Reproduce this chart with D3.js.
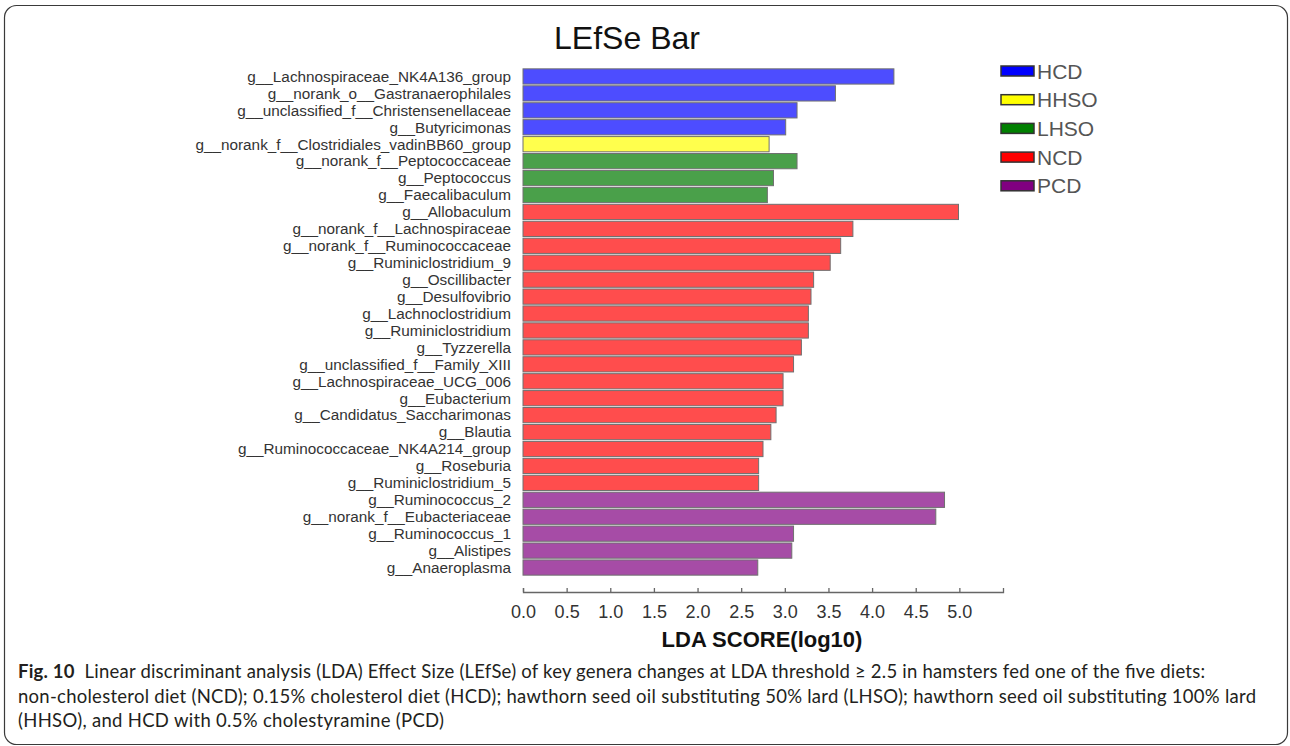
<!DOCTYPE html>
<html>
<head>
<meta charset="utf-8">
<script src="https://cdn.jsdelivr.net/npm/d3@7"></script>
<style>
  body { margin: 0; background: #fff; }
  svg { display: block; }
</style>
</head>
<body>
<script>
// genera, in the order drawn top to bottom
var genera = [
  "g__Lachnospiraceae_NK4A136_group",
  "g__norank_o__Gastranaerophilales",
  "g__unclassified_f__Christensenellaceae",
  "g__Butyricimonas",
  "g__norank_f__Clostridiales_vadinBB60_group",
  "g__norank_f__Peptococcaceae",
  "g__Peptococcus",
  "g__Faecalibaculum",
  "g__Allobaculum",
  "g__norank_f__Lachnospiraceae",
  "g__norank_f__Ruminococcaceae",
  "g__Ruminiclostridium_9",
  "g__Oscillibacter",
  "g__Desulfovibrio",
  "g__Lachnoclostridium",
  "g__Ruminiclostridium",
  "g__Tyzzerella",
  "g__unclassified_f__Family_XIII",
  "g__Lachnospiraceae_UCG_006",
  "g__Eubacterium",
  "g__Candidatus_Saccharimonas",
  "g__Blautia",
  "g__Ruminococcaceae_NK4A214_group",
  "g__Roseburia",
  "g__Ruminiclostridium_5",
  "g__Ruminococcus_2",
  "g__norank_f__Eubacteriaceae",
  "g__Ruminococcus_1",
  "g__Alistipes",
  "g__Anaeroplasma"
];
var ldaScores = [4.25, 3.58, 3.14, 3.01, 2.82, 3.14, 2.87, 2.80, 4.99, 3.78,
                 3.64, 3.52, 3.33, 3.30, 3.27, 3.27, 3.19, 3.10, 2.98, 2.98,
                 2.90, 2.84, 2.75, 2.70, 2.70, 4.83, 4.73, 3.10, 3.08, 2.69];
var groupOf = ["HCD", "HCD", "HCD", "HCD", "HHSO", "LHSO", "LHSO", "LHSO",
               "NCD", "NCD", "NCD", "NCD", "NCD", "NCD", "NCD", "NCD", "NCD",
               "NCD", "NCD", "NCD", "NCD", "NCD", "NCD", "NCD", "NCD",
               "PCD", "PCD", "PCD", "PCD", "PCD"];
var groups = ["HCD", "HHSO", "LHSO", "NCD", "PCD"];
var tickValues = [0, 0.5, 1, 1.5, 2, 2.5, 3, 3.5, 4, 4.5, 5];
var captionLines = [
  "\u00a0 Linear discriminant analysis (LDA) Effect Size (LEfSe) of key genera changes at LDA threshold \u2265 2.5 in hamsters fed one of the five diets:",
  "non-cholesterol diet (NCD); 0.15% cholesterol diet (HCD); hawthorn seed oil substituting 50% lard (LHSO); hawthorn seed oil substituting 100% lard",
  "(HHSO), and HCD with 0.5% cholestyramine (PCD)"
];

var width = 1290;
var height = 746;
var margin = {top: 68, left: 523, right: 287, bottom: 170};

var legendColor = d3.scaleOrdinal()
  .domain(groups)
  .range(["#0000ff", "#ffff00", "#008000", "#ff0000", "#800080"]);
var barColor = d3.scaleOrdinal()
  .domain(groups)
  .range(["#4d4dff", "#ffff4d", "#4aa04a", "#ff4d4d", "#a64ca6"]);

var data = genera.map(function(g, i){
  return {name: g, score: ldaScores[i], group: groupOf[i]};
});

var svg = d3.select("body")
  .append("svg")
  .attr("width", width)
  .attr("height", height);

// rounded frame around the figure
svg.append("rect")
  .attr("x", 4.5)
  .attr("y", 5.5)
  .attr("width", 1283)
  .attr("height", 739)
  .attr("rx", 12)
  .attr("fill", "none")
  .attr("stroke", "#3a3a3a")
  .attr("stroke-width", 1.2);

var xScale = d3.scaleLinear()
  .domain([0, 5.5])
  .range([margin.left, width - margin.right]);

var yScale = d3.scaleBand()
  .domain(genera)
  .range([margin.top, height - margin.bottom])
  .paddingInner(0.1)
  .paddingOuter(0.05);

svg.append("text")
  .attr("x", 627)
  .attr("y", 49)
  .attr("text-anchor", "middle")
  .attr("font-family", "Liberation Sans, Arial")
  .attr("font-size", 32)
  .attr("fill", "#111")
  .text("LEfSe Bar");

// bars
svg.append("g")
  .selectAll("rect")
  .data(data)
  .enter()
  .append("rect")
  .attr("x", xScale(0))
  .attr("y", function(d){ return yScale(d.name); })
  .attr("width", function(d){ return xScale(d.score) - xScale(0); })
  .attr("height", yScale.bandwidth())
  .attr("fill", function(d){ return barColor(d.group); })
  .attr("stroke", "#707070")
  .attr("stroke-width", 1);

// genus labels
svg.append("g")
  .selectAll("text")
  .data(data)
  .enter()
  .append("text")
  .attr("x", margin.left - 12)
  .attr("y", function(d){ return yScale(d.name) + yScale.bandwidth() / 2; })
  .attr("dy", "0.35em")
  .attr("text-anchor", "end")
  .attr("font-family", "Liberation Sans, Arial")
  .attr("font-size", 15.3)
  .attr("fill", "#333")
  .text(function(d){ return d.name; });

// x axis, ticks pointing up
var axisY = 592;
var xAxis = d3.axisBottom(xScale)
  .tickValues(tickValues)
  .tickFormat(d3.format(".1f"))
  .tickSizeInner(-4)
  .tickSizeOuter(-4)
  .tickPadding(13);

var axisG = svg.append("g")
  .attr("transform", "translate(0," + axisY + ")")
  .call(xAxis);
axisG.select(".domain").attr("stroke", "#666").attr("stroke-width", 1.3);
axisG.selectAll(".tick line").attr("stroke", "#666").attr("stroke-width", 1.3);
axisG.selectAll(".tick text")
  .attr("font-family", "Liberation Sans, Arial")
  .attr("font-size", 18)
  .attr("fill", "#333");

svg.append("text")
  .attr("x", 762)
  .attr("y", 647)
  .attr("text-anchor", "middle")
  .attr("font-family", "Liberation Sans, Arial")
  .attr("font-weight", "bold")
  .attr("font-size", 22)
  .attr("fill", "#111")
  .text("LDA SCORE(log10)");

// legend
var legend = svg.append("g")
  .selectAll(".legend")
  .data(groups)
  .enter()
  .append("g")
  .attr("class", "legend")
  .attr("transform", function(d, i){ return "translate(1001," + (66 + i * 28.7) + ")"; });

legend.append("rect")
  .attr("width", 33)
  .attr("height", 10)
  .attr("fill", function(d){ return legendColor(d); })
  .attr("stroke", "#333")
  .attr("stroke-width", 1.5);

legend.append("text")
  .attr("x", 36)
  .attr("y", 5)
  .attr("dy", "0.36em")
  .attr("font-family", "Liberation Sans, Arial")
  .attr("font-size", 21)
  .attr("fill", "#555")
  .text(function(d){ return d; });

// caption
var capWidths = [1187, 1238, 426];
var caption = svg.append("g")
  .attr("font-family", "Lato, Noto Sans, sans-serif")
  .attr("font-size", 18.5)
  .attr("fill", "#231f20");

captionLines.forEach(function(line, i){
  var t = caption.append("text")
    .attr("x", 18)
    .attr("y", 678 + i * 24.6)
    .attr("textLength", capWidths[i])
    .attr("lengthAdjust", "spacing");
  if (i === 0) {
    t.append("tspan").attr("font-weight", "bold").text("Fig. 10");
  }
  t.append("tspan").text(line);
});
</script>
</body>
</html>
